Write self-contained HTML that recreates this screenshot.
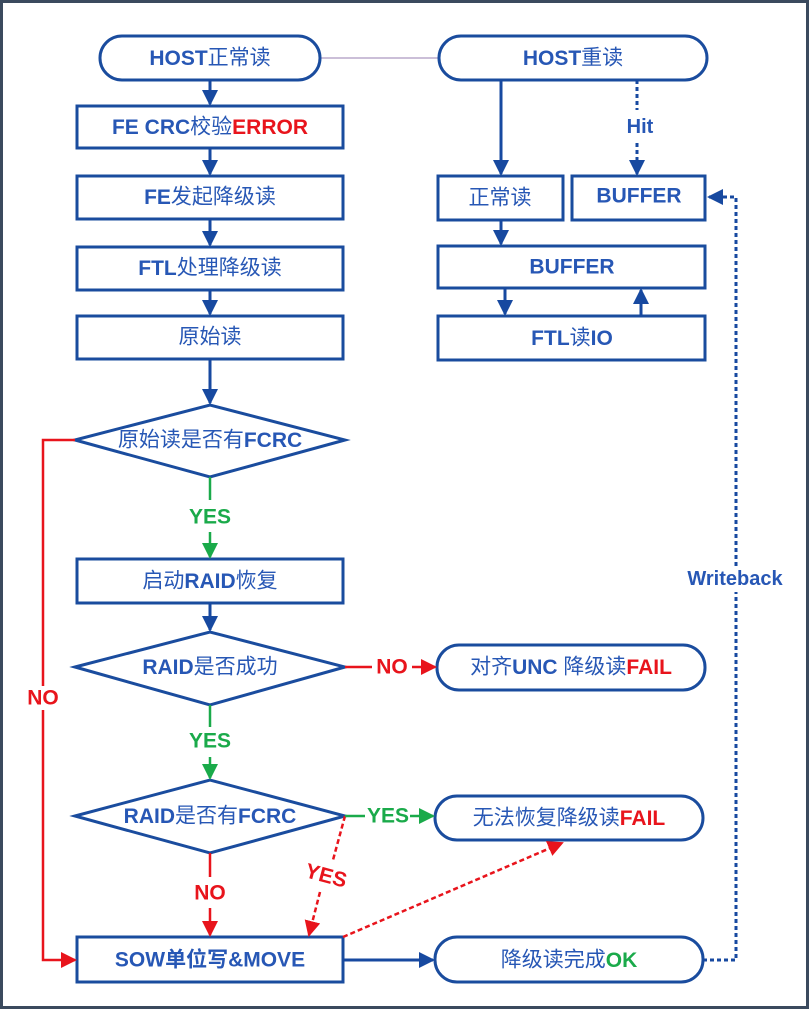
<!DOCTYPE html>
<html><head><meta charset="utf-8"><style>
html,body{margin:0;padding:0;background:#fff}
svg{display:block}
text{font-family:"Liberation Sans","Noto Sans CJK SC",sans-serif;font-size:21px;text-anchor:middle;dominant-baseline:central}
.b{font-weight:bold}
</style></head><body>
<svg width="809" height="1010" viewBox="0 0 809 1010" xmlns="http://www.w3.org/2000/svg">
<defs>
<marker id="ar" markerWidth="16" markerHeight="16" refX="14" refY="8" orient="auto" markerUnits="userSpaceOnUse" viewBox="0 0 16 16"><path d="M0,0L16,8L0,16z" fill="#e8141c"/></marker>
<marker id="ag" markerWidth="16" markerHeight="16" refX="14" refY="8" orient="auto" markerUnits="userSpaceOnUse" viewBox="0 0 16 16"><path d="M0,0L16,8L0,16z" fill="#1aaa4a"/></marker>
<marker id="abl" markerWidth="16" markerHeight="16" refX="14" refY="8" orient="auto" markerUnits="userSpaceOnUse" viewBox="0 0 16 16"><path d="M0,0L16,8L0,16z" fill="#1749a0"/></marker>
</defs>
<rect x="1.5" y="1.5" width="806" height="1006" fill="#fff" stroke="#3b4a5e" stroke-width="3"/>
<g fill="none" stroke="#1a4c9e" stroke-width="3">
<line x1="320" y1="58" x2="440" y2="58" stroke="#cbbfd8" stroke-width="2"/>
<rect x="100" y="36" width="220" height="44" rx="22"/>
<rect x="77" y="106" width="266" height="42"/>
<rect x="77" y="176" width="266" height="43"/>
<rect x="77" y="247" width="266" height="43"/>
<rect x="77" y="316" width="266" height="43"/>
<path d="M75,440L210,405L345,440L210,477z"/>
<rect x="77" y="559" width="266" height="44"/>
<path d="M75,667L210,632L345,667L210,705z"/>
<path d="M75,816L210,780L345,816L210,853z"/>
<rect x="77" y="937" width="266" height="45"/>
<rect x="435" y="937" width="268" height="45" rx="22"/>
<rect x="437" y="645" width="268" height="45" rx="22"/>
<rect x="435" y="796" width="268" height="44" rx="22"/>
<rect x="439" y="36" width="268" height="44" rx="22"/>
<rect x="438" y="176" width="125" height="44"/>
<rect x="572" y="176" width="133" height="44"/>
<rect x="438" y="246" width="267" height="42"/>
<rect x="438" y="316" width="267" height="44"/>
</g>
<g stroke="#1749a0" stroke-width="3" fill="none">
<line x1="210" y1="80" x2="210" y2="104" marker-end="url(#abl)"/>
<line x1="210" y1="148" x2="210" y2="174" marker-end="url(#abl)"/>
<line x1="210" y1="219" x2="210" y2="245" marker-end="url(#abl)"/>
<line x1="210" y1="290" x2="210" y2="314" marker-end="url(#abl)"/>
<line x1="210" y1="359" x2="210" y2="403" marker-end="url(#abl)"/>
<line x1="210" y1="603" x2="210" y2="630" marker-end="url(#abl)"/>
<line x1="343" y1="960" x2="433" y2="960" marker-end="url(#abl)"/>
<line x1="501" y1="80" x2="501" y2="174" marker-end="url(#abl)"/>
<line x1="501" y1="220" x2="501" y2="244" marker-end="url(#abl)"/>
<line x1="505" y1="288" x2="505" y2="314" marker-end="url(#abl)"/>
<line x1="641" y1="316" x2="641" y2="290" marker-end="url(#abl)"/>
<path d="M637,80V110M637,143V174" stroke-dasharray="4,3" marker-end="url(#abl)"/>
<path d="M703,960H736V197H709" stroke-dasharray="4,3" marker-end="url(#abl)"/>
</g>
<g stroke="#e8141c" stroke-width="2.5" fill="none">
<path d="M75,440H43V960H75" marker-end="url(#ar)"/>
<line x1="345" y1="667" x2="372" y2="667"/>
<line x1="412" y1="667" x2="435" y2="667" marker-end="url(#ar)"/>
<line x1="210" y1="853" x2="210" y2="877"/>
<line x1="210" y1="908" x2="210" y2="935" marker-end="url(#ar)"/>
<path d="M345,816L333,860M320,892L309,935" stroke-dasharray="5,3" marker-end="url(#ar)"/>
<line x1="343" y1="937" x2="562" y2="843" stroke-dasharray="5,3" marker-end="url(#ar)"/>
</g>
<g stroke="#1aaa4a" stroke-width="2.5" fill="none">
<line x1="210" y1="477" x2="210" y2="500"/>
<line x1="210" y1="532" x2="210" y2="557" marker-end="url(#ag)"/>
<line x1="210" y1="705" x2="210" y2="727"/>
<line x1="210" y1="757" x2="210" y2="778" marker-end="url(#ag)"/>
<line x1="345" y1="816" x2="365" y2="816"/>
<line x1="410" y1="816" x2="433" y2="816" marker-end="url(#ag)"/>
</g>
<rect x="672" y="566" width="126" height="26" fill="#fff"/>
<rect x="25" y="686" width="36" height="24" fill="#fff"/>
<g fill="#2757b5">
<text x="210" y="58"><tspan class="b">HOST</tspan>正常读</text>
<text x="210" y="127"><tspan class="b">FE CRC</tspan>校验<tspan class="b" fill="#e8141c">ERROR</tspan></text>
<text x="210" y="197"><tspan class="b">FE</tspan>发起降级读</text>
<text x="210" y="268"><tspan class="b">FTL</tspan>处理降级读</text>
<text x="210" y="337">原始读</text>
<text x="210" y="440">原始读是否有<tspan class="b">FCRC</tspan></text>
<text x="210" y="581">启动<tspan class="b">RAID</tspan>恢复</text>
<text x="210" y="667"><tspan class="b">RAID</tspan>是否成功</text>
<text x="210" y="816"><tspan class="b">RAID</tspan>是否有<tspan class="b">FCRC</tspan></text>
<text x="210" y="960" class="b">SOW单位写&amp;MOVE</text>
<text x="569" y="960">降级读完成<tspan class="b" fill="#1aaa4a">OK</tspan></text>
<text x="571" y="667">对齐<tspan class="b">UNC</tspan> 降级读<tspan class="b" fill="#e8141c">FAIL</tspan></text>
<text x="569" y="818">无法恢复降级读<tspan class="b" fill="#e8141c">FAIL</tspan></text>
<text x="573" y="58"><tspan class="b">HOST</tspan>重读</text>
<text x="500" y="198">正常读</text>
<text x="639" y="196" class="b">BUFFER</text>
<text x="572" y="267" class="b">BUFFER</text>
<text x="572" y="338"><tspan class="b">FTL</tspan>读<tspan class="b">IO</tspan></text>
<text x="640" y="127" class="b" style="font-size:20px">Hit</text>
<text x="735" y="579" class="b" style="font-size:20px">Writeback</text>
</g>
<g style="font-size:20px">
<text x="43" y="698" fill="#e8141c" class="b">NO</text>
<text x="392" y="667" fill="#e8141c" class="b">NO</text>
<text x="210" y="893" fill="#e8141c" class="b">NO</text>
<text x="210" y="517" fill="#1aaa4a" class="b">YES</text>
<text x="210" y="741" fill="#1aaa4a" class="b">YES</text>
<text x="388" y="816" fill="#1aaa4a" class="b">YES</text>
<text x="326" y="876" fill="#e8141c" class="b" transform="rotate(15 326 876)">YES</text>
</g>
</svg>
</body></html>
